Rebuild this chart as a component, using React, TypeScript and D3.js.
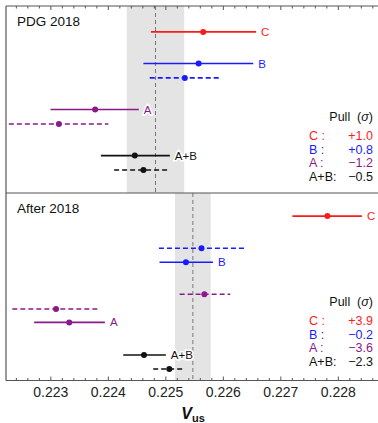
import React, {useRef, useEffect} from "react";
import * as d3 from "d3";

// panel info
const panelTitles = ["PDG 2018", "After 2018"];
const bandLow = [0.22432, 0.22516];
const bandHigh = [0.22532, 0.22578];
const bandMid = [0.22482, 0.22547];

// measurements: label, row slot, low, central, high, dashed
const p1Labels = ["C", "B", "B", "A", "A", "A+B", "A+B"];
const p1Rows = [1.8, 4.0, 5.0, 7.2, 8.2, 10.4, 11.4];
const p1Low = [0.22474, 0.22461, 0.22472, 0.222995, 0.22227, 0.22387, 0.2241];
const p1Mid = [0.22565, 0.22557, 0.22533, 0.22377, 0.22314, 0.22446, 0.22461];
const p1High = [0.22657, 0.22652, 0.22596, 0.22453, 0.224, 0.22507, 0.22507];
const p1Dashed = [false, false, true, false, true, false, true];

const p2Labels = ["C", "B", "B", "A", "A", "A", "A+B", "A+B"];
const p2Rows = [1.6, 3.83, 4.8, 7.02, 8.04, 8.97, 11.23, 12.2];
const p2Low = [0.2272, 0.22488, 0.22489, 0.22524, 0.22233, 0.22271, 0.22426, 0.22478];
const p2Mid = [0.22781, 0.22562, 0.22535, 0.22567, 0.22309, 0.22332, 0.22462, 0.22506];
const p2High = [0.22841, 0.22636, 0.22582, 0.22612, 0.22382, 0.22394, 0.225, 0.22533];
const p2Dashed = [false, true, false, true, true, false, false, true];

// pulls
const pullNames = ["C :", "B :", "A :", "A+B:"];
const pulls1 = ["+1.0", "+0.8", "\u22121.2", "\u22120.5"];
const pulls2 = ["+3.9", "\u22120.2", "\u22123.6", "\u22122.3"];

const xTicks = [0.223, 0.224, 0.225, 0.226, 0.227, 0.228];

const colors = {"C": "#ff1a1a", "B": "#1a1aff", "A": "#8a1a8a", "A+B": "#111111"};

const App = () => {
    const ref = useRef();

    useEffect(() => {
        const width = 378;
        const height = 423;
        const left = 6;
        const top = 6;
        const mid = 193;
        const bottom = 380.5;
        const frameColor = "#555";
        const font = "'Liberation Sans', Arial, sans-serif";

        const svg = d3.select(ref.current)
            .attr("width", width)
            .attr("height", height)
            .style("font-family", font);
        svg.selectAll("*").remove();

        const x = d3.scaleLinear().domain([0.22222, 0.22869]).range([left, width]);

        const panels = [
            {y0: top, y1: mid, labels: p1Labels, rows: p1Rows, low: p1Low, c: p1Mid, high: p1High, dashed: p1Dashed, pulls: pulls1},
            {y0: mid, y1: bottom, labels: p2Labels, rows: p2Rows, low: p2Low, c: p2Mid, high: p2High, dashed: p2Dashed, pulls: pulls2},
        ];

        panels.forEach((p, pi) => {
            const y = d3.scaleLinear().domain([0, 13]).range([p.y0, p.y1]);
            const g = svg.append("g");

            // combined band + central value
            g.append("rect")
                .attr("x", x(bandLow[pi]))
                .attr("y", p.y0)
                .attr("width", x(bandHigh[pi]) - x(bandLow[pi]))
                .attr("height", p.y1 - p.y0)
                .attr("fill", "#e4e4e4");
            g.append("line")
                .attr("x1", x(bandMid[pi])).attr("x2", x(bandMid[pi]))
                .attr("y1", p.y0).attr("y2", p.y1)
                .attr("stroke", "#777")
                .attr("stroke-width", 1)
                .attr("stroke-dasharray", "4,3");

            // title
            g.append("text")
                .attr("x", 17)
                .attr("y", p.y0 + 20)
                .attr("font-size", 13.5)
                .attr("fill", "#111")
                .text(panelTitles[pi]);

            const idx = d3.range(p.labels.length);

            // error bars
            g.selectAll(".bar").data(idx).enter()
                .append("line")
                .attr("x1", i => x(p.low[i]))
                .attr("x2", i => x(p.high[i]))
                .attr("y1", i => y(p.rows[i]))
                .attr("y2", i => y(p.rows[i]))
                .attr("stroke", i => colors[p.labels[i]])
                .attr("stroke-width", 1.6)
                .attr("stroke-dasharray", i => p.dashed[i] ? "5,3" : null);

            g.selectAll(".dot").data(idx).enter()
                .append("circle")
                .attr("cx", i => x(p.c[i]))
                .attr("cy", i => y(p.rows[i]))
                .attr("r", 3)
                .attr("fill", i => colors[p.labels[i]]);

            // labels on the solid ones
            const solid = idx.filter(i => !p.dashed[i]);
            g.selectAll(".lbl").data(solid).enter()
                .append("text")
                .attr("x", i => x(p.high[i]) + 5)
                .attr("y", i => y(p.rows[i]) + 4)
                .attr("font-size", 11.5)
                .attr("fill", i => colors[p.labels[i]])
                .style("paint-order", "stroke")
                .attr("stroke", "white")
                .attr("stroke-width", 3)
                .text(i => p.labels[i]);

            // pull table
            const ly = p.y0 + (pi === 0 ? 115 : 113);
            g.append("text")
                .attr("x", 373)
                .attr("y", ly)
                .attr("text-anchor", "end")
                .attr("font-size", 12.5)
                .attr("fill", "#111")
                .html("Pull&#160;&#160;(<tspan font-style='italic'>\u03c3</tspan>)");
            pullNames.forEach((name, k) => {
                const key = ["C", "B", "A", "A+B"][k];
                g.append("text")
                    .attr("x", 309)
                    .attr("y", ly + 19 + k * 13.6)
                    .attr("font-size", 12.5)
                    .attr("fill", colors[key])
                    .text(name);
                g.append("text")
                    .attr("x", 373)
                    .attr("y", ly + 19 + k * 13.6)
                    .attr("text-anchor", "end")
                    .attr("font-size", 12.5)
                    .attr("fill", colors[key])
                    .text(p.pulls[k]);
            });
        });

        // frame
        svg.append("line").attr("x1", left).attr("x2", left).attr("y1", top).attr("y2", bottom)
            .attr("stroke", frameColor).attr("stroke-width", 1.2);
        [top, mid, bottom].forEach(yy => {
            svg.append("line").attr("x1", left).attr("x2", width).attr("y1", yy).attr("y2", yy)
                .attr("stroke", frameColor).attr("stroke-width", 1.2);
        });

        // ticks
        const minor = d3.range(0.2224, 0.2287, 0.0002);
        const isMajor = v => Math.abs(v * 1000 - Math.round(v * 1000)) < 1e-6;
        const tickLen = v => isMajor(v) ? 4 : 2.5;
        svg.selectAll(".ttop").data(minor).enter().append("line")
            .attr("x1", d => x(d)).attr("x2", d => x(d))
            .attr("y1", top).attr("y2", d => top + tickLen(d))
            .attr("stroke", frameColor).attr("stroke-width", 1);
        svg.selectAll(".tbot").data(minor).enter().append("line")
            .attr("x1", d => x(d)).attr("x2", d => x(d))
            .attr("y1", bottom).attr("y2", d => bottom - tickLen(d))
            .attr("stroke", frameColor).attr("stroke-width", 1);

        svg.selectAll(".tlab").data(xTicks).enter().append("text")
            .attr("x", d => x(d))
            .attr("y", bottom + 16)
            .attr("text-anchor", "middle")
            .attr("font-size", 14)
            .attr("fill", "#222")
            .text(d => d3.format(".3f")(d));

        // axis title
        const t = svg.append("text")
            .attr("x", 193)
            .attr("y", 419)
            .attr("text-anchor", "middle")
            .attr("font-weight", "bold")
            .attr("fill", "#111");
        t.append("tspan").attr("font-size", 16).attr("font-style", "italic").text("V");
        t.append("tspan").attr("font-size", 11).attr("dy", 3).text("us");
    }, []);

    return (
        <div style={{position: "absolute", left: 0, top: 0}}>
            <svg ref={ref}></svg>
        </div>
    );
};

export default App;
